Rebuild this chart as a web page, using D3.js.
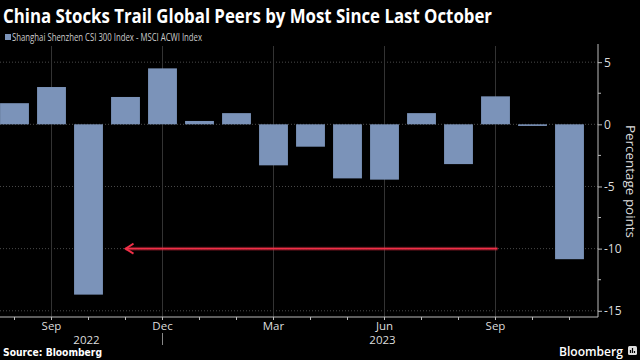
<!DOCTYPE html>
<html><head><meta charset="utf-8">
<script src="https://cdn.jsdelivr.net/npm/d3@7"></script>
<style>html,body{margin:0;padding:0;background:#000;}svg{display:block;}</style>
</head><body><svg id="c" width="640" height="360"></svg>
<script>
const months = ["2022-08","2022-09","2022-10","2022-11","2022-12","2023-01","2023-02","2023-03","2023-04","2023-05","2023-06","2023-07","2023-08","2023-09","2023-10","2023-11"];
const spread = [1.7, 3.0, -13.7, 2.2, 4.5, 0.27, 0.9, -3.3, -1.8, -4.35, -4.45, 0.9, -3.2, 2.25, -0.13, -10.85];
const monthLabels = {"2022-09":"Sep","2022-12":"Dec","2023-03":"Mar","2023-06":"Jun","2023-09":"Sep"};
const yearLabels = [{at:"2022-10", text:"2022"}, {at:"2023-06", text:"2023"}];
const yTicks = [5, 0, -5, -10, -15];
const yMinor = [2.5, -2.5, -7.5, -12.5];
const arrowLevel = -10;
const arrowFrom = "2023-10", arrowTo = "2022-11";
const title = "China Stocks Trail Global Peers by Most Since Last October";
const legendLabel = "Shanghai Shenzhen CSI 300 Index - MSCI ACWI Index";

const svg = d3.select("#c");
const barColor = "#7b93b9";
const x = d3.scaleBand().domain(months).range([-4, 588]).paddingInner(0.22).paddingOuter(0.11);
const xc = m => x(m) + x.bandwidth()/2;
const y = d3.scaleLinear().domain([-15.5, 6.3]).range([317, 46]);
const axisX = 598;

svg.append("rect").attr("width",640).attr("height",360).attr("fill","#000");

// gridlines
svg.append("g").selectAll("line").data(yTicks).join("line")
  .attr("x1",0).attr("x2",axisX).attr("y1",d=>y(d)).attr("y2",d=>y(d))
  .attr("stroke","#4a4a4a").attr("stroke-width",1).attr("stroke-dasharray","1,2");
svg.append("g").selectAll("line").data(Object.keys(monthLabels)).join("line")
  .attr("x1",d=>xc(d)).attr("x2",d=>xc(d)).attr("y1",46).attr("y2",317)
  .attr("stroke","#333").attr("stroke-width",1);

// bars
svg.append("g").selectAll("rect").data(months).join("rect")
  .attr("x",d=>x(d)).attr("width",x.bandwidth())
  .attr("y",(d,i)=>y(Math.max(0,spread[i])))
  .attr("height",(d,i)=>Math.max(1,Math.abs(y(spread[i])-y(0))))
  .attr("fill",barColor);

// red arrow
const ax1 = xc(arrowTo), ax2 = xc(arrowFrom) - 35, ay = y(arrowLevel);
const ag = svg.append("g");
ag.append("line").attr("x1",ax1).attr("x2",ax2).attr("y1",ay).attr("y2",ay)
  .attr("stroke","#e8283f").attr("stroke-width",4).attr("opacity",0.3);
ag.append("line").attr("x1",ax1).attr("x2",ax2).attr("y1",ay).attr("y2",ay)
  .attr("stroke","#f03048").attr("stroke-width",1.8);
ag.append("path").attr("d",`M${ax1+8},${ay-5}L${ax1},${ay}L${ax1+8},${ay+5}`)
  .attr("fill","none").attr("stroke","#f03048").attr("stroke-width",1.8);

// y axis
const yAxis = d3.axisRight(y).tickValues(yTicks).tickSize(4).tickPadding(2).tickFormat(d=>d3.format("d")(d).replace("−","-"));
const yg = svg.append("g").attr("transform",`translate(${axisX},0)`).call(yAxis);
yg.select(".domain").attr("d",`M0,44V317`).attr("stroke","#bbb");
yg.selectAll(".tick line").attr("stroke","#bbb");
yg.selectAll(".tick text").attr("fill","#ddd").attr("font-family","'Open Sans', sans-serif").attr("font-size",12);
yg.append("g").selectAll("line").data(yMinor).join("line")
  .attr("x1",0).attr("x2",3).attr("y1",d=>y(d)).attr("y2",d=>y(d)).attr("stroke","#bbb");

svg.append("text").attr("transform",`translate(626,${y(-4.6)}) rotate(90)`)
  .attr("text-anchor","middle").attr("fill","#ddd").attr("font-family","'Open Sans', sans-serif")
  .attr("font-size",12.5).attr("textLength",113).attr("lengthAdjust","spacingAndGlyphs").text("Percentage points");

// x axis
const xAxis = d3.axisBottom(x).tickSize(3).tickFormat(d=>monthLabels[d]||"").tickPadding(2);
const xg = svg.append("g").attr("transform","translate(0,317)").call(xAxis);
xg.select(".domain").attr("d",`M0,0H${axisX}`).attr("stroke","#bbb");
xg.selectAll(".tick line").attr("stroke","#bbb");
xg.selectAll(".tick text").attr("fill","#ddd").attr("font-family","'Open Sans', sans-serif").attr("font-size",11.5);
// year separator
svg.append("line").attr("x1",xc("2022-12")).attr("x2",xc("2022-12")).attr("y1",333).attr("y2",345)
  .attr("stroke","#888");
svg.append("g").selectAll("text").data(yearLabels).join("text")
  .attr("x",d=>xc(d.at)-2).attr("y",344).attr("text-anchor","middle")
  .attr("fill","#ddd").attr("font-family","'Open Sans', sans-serif").attr("font-size",11.5).text(d=>d.text);

// title & legend
svg.append("text").attr("x",3).attr("y",23).attr("fill","#fff")
  .attr("font-family","'Open Sans', sans-serif").attr("font-weight","bold").attr("font-size",20)
  .attr("textLength",489).attr("lengthAdjust","spacingAndGlyphs").text(title);
svg.append("rect").attr("x",5).attr("y",34).attr("width",6).attr("height",6).attr("fill",barColor);
svg.append("text").attr("x",12).attr("y",40.5).attr("fill","#ccc")
  .attr("font-family","'Open Sans', sans-serif").attr("font-size",10)
  .attr("textLength",190).attr("lengthAdjust","spacingAndGlyphs").text(legendLabel);

// footer
svg.append("text").attr("x",3).attr("y",356).attr("fill","#fff")
  .attr("font-family","'DejaVu Sans', sans-serif").attr("font-weight","bold").attr("font-size",10.5)
  .attr("textLength",99).attr("lengthAdjust","spacingAndGlyphs").text("Source: Bloomberg");
svg.append("text").attr("x",559).attr("y",356).attr("fill","#fff")
  .attr("font-family","'Open Sans', sans-serif").attr("font-weight","600").attr("font-size",13)
  .attr("textLength",64).attr("lengthAdjust","spacingAndGlyphs").text("Bloomberg");
svg.append("rect").attr("x",628).attr("y",346).attr("width",9).attr("height",9).attr("rx",1.5).attr("fill","#ddd");
svg.append("path").attr("d","M630.5,353V350M632.5,353V348M634.5,353V351").attr("stroke","#000").attr("stroke-width",1.2);
</script></body></html>
